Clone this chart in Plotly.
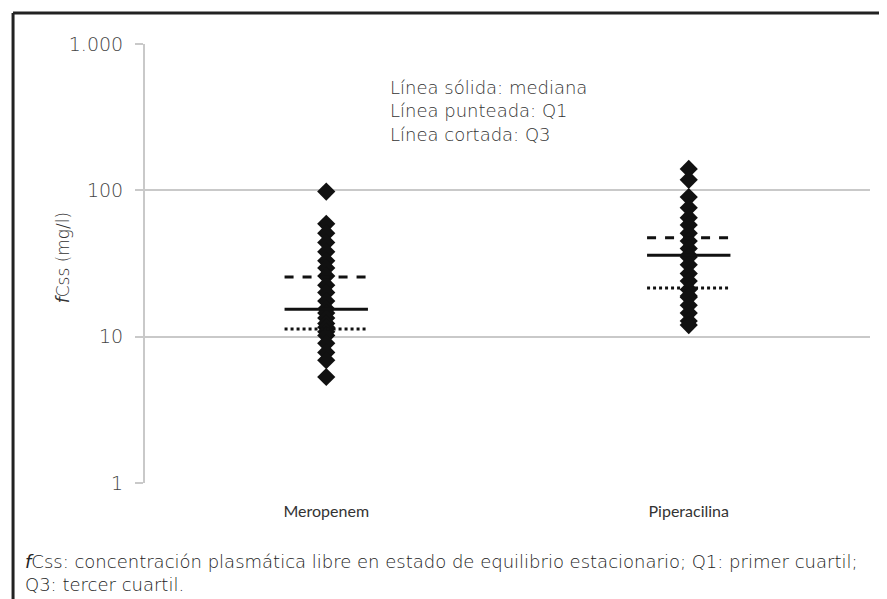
import plotly.graph_objects as go

categories = ["Meropenem", "Piperacilina"]

meropenem_vals = [98, 59, 51, 44, 38, 33, 29.5, 26, 22.5, 20, 17.5, 15.5, 14.5, 13.4, 12.3,
                  11.6, 10.8, 10.2, 9.0, 7.8, 6.9, 5.3]
piperacilina_vals = [140, 118, 90, 76, 65, 58, 51, 45, 40, 36, 35, 31, 27, 24, 21, 19,
                     18.6, 16.4, 14.5, 12.8, 12.0]

q1_vals = [11.3, 21.5]
median_vals = [15.4, 36.0]
q3_vals = [25.6, 47.5]

y_tickvals = [1, 10, 100, 1000]
y_ticktext = ["1", "10", "100", "1.000"]
y_title = "<i>f</i>Css (mg/l)"

annotation_lines = ["Línea sólida: mediana", "Línea punteada: Q1", "Línea cortada: Q3"]
footnote = ("<i>f</i>Css: concentración plasmática libre en estado de equilibrio estacionario; "
            "Q1: primer cuartil;<br>Q3: tercer cuartil.")

LIGHT = "DejaVu Sans"
FONT = "Lato"
OFF = 8  # page body margin

fig = go.Figure()

series = [meropenem_vals, piperacilina_vals]
for i, vals in enumerate(series):
    fig.add_trace(go.Scatter(
        x=[i] * len(vals), y=vals, mode="markers",
        marker=dict(symbol="diamond", size=14, color="#111111"),
        showlegend=False, hoverinfo="y"))

half = 0.115
for i in range(len(categories)):
    for vals, dash in [(q3_vals, "dash"), (median_vals, "solid"), (q1_vals, "dot")]:
        fig.add_trace(go.Scatter(
            x=[i - half, i + half], y=[vals[i], vals[i]], mode="lines",
            line=dict(color="#111111", width=3, dash=dash),
            showlegend=False, hoverinfo="y"))

light = lambda size, color: dict(size=size, color=color, family=LIGHT, weight=200)

fig.update_layout(
    width=887 - OFF, height=599 - OFF,
    margin=dict(l=145 - OFF, r=17, t=44 - OFF, b=116),
    paper_bgcolor="white", plot_bgcolor="white",
    font=light(16, "#333333"),
    xaxis=dict(range=[-0.5, 1.5], tickvals=[0, 1], ticktext=categories,
               showgrid=False, zeroline=False, showline=False,
               tickfont=dict(size=16, color="#333333", family=FONT, weight=400),
               ticks="", ticklabelstandoff=17, fixedrange=True),
    yaxis=dict(type="log", range=[0, 3], tickvals=y_tickvals, ticktext=y_ticktext,
               showgrid=True, gridcolor="#c9c9c9", gridwidth=2,
               showline=True, linecolor="#c9c9c9", linewidth=2,
               ticks="outside", ticklen=8, tickcolor="#c9c9c9", tickwidth=2,
               ticklabelstandoff=8,
               tickfont=light(19, "#444444"),
               zeroline=False, fixedrange=True),
)

# y-axis title
fig.add_annotation(
    xref="paper", yref="paper", x=-0.113, y=0.512, xanchor="center", yanchor="middle",
    text=y_title, textangle=-90, showarrow=False, font=light(17, "#333333"))

fig.add_annotation(
    xref="paper", yref="paper", x=0.335, y=0.93, xanchor="left", yanchor="top",
    text="<br>".join(annotation_lines), showarrow=False, align="left",
    font=light(18, "#333333"))

fig.add_annotation(
    xref="paper", yref="paper", x=-0.168, y=-0.151, xanchor="left", yanchor="top",
    text=footnote, showarrow=False, align="left",
    font=light(18, "#222222"))

# outer frame (top and left edges)
fig.add_shape(type="line", xref="paper", yref="paper", x0=-0.1820, x1=1.06, y0=1.0705, y1=1.0705,
              line=dict(color="#222222", width=3))
fig.add_shape(type="line", xref="paper", yref="paper", x0=-0.1820, x1=-0.1820, y0=1.0705, y1=-0.3,
              line=dict(color="#222222", width=3))

fig.write_html("out.html")
